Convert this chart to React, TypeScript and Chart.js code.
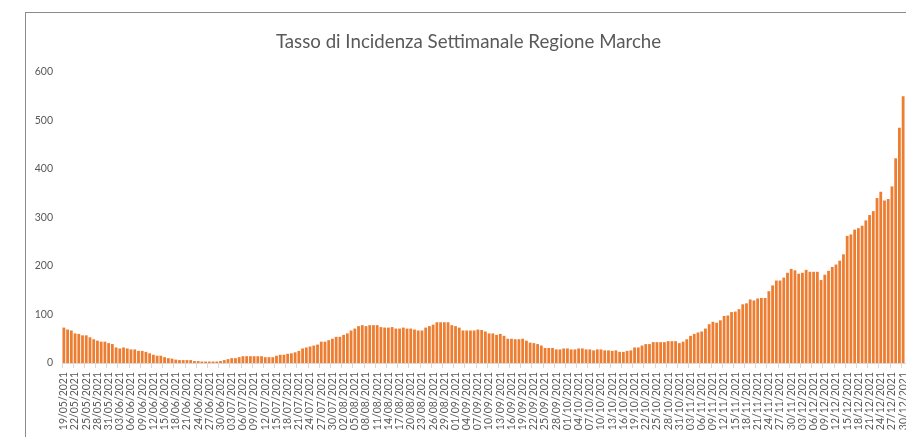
import { useEffect, useRef } from 'react';
import { Chart, registerables } from 'chart.js';

Chart.register(...registerables);

const TITLE = 'Tasso di Incidenza Settimanale Regione Marche';
const START_DAY = { y: 2021, m: 5, d: 19 };
const DAY_COUNT = 226;

function buildDates(): string[] {
  const out: string[] = [];
  const dt = new Date(START_DAY.y, START_DAY.m - 1, START_DAY.d, 12);
  for (let i = 0; i < DAY_COUNT; i++) {
    const dd = String(dt.getDate()).padStart(2, '0');
    const mm = String(dt.getMonth() + 1).padStart(2, '0');
    out.push(`${dd}/${mm}/${dt.getFullYear()}`);
    dt.setDate(dt.getDate() + 1);
  }
  return out;
}
const categories: string[] = buildDates();

// 19/05 - 04/07
const valuesMayJul = [73, 69, 67, 61, 60, 57, 57, 53, 49, 46, 44, 44, 41, 39, 32, 30, 32, 30, 28, 28, 25, 25, 23, 20, 17, 15, 15, 12, 10, 9, 7, 6, 6, 6, 6, 4, 4, 3, 3, 3, 3, 3, 4, 6, 8, 10, 10];
// 05/07 - 28/08
const valuesJulAug = [12, 14, 14, 14, 14, 14, 14, 12, 12, 12, 15, 17, 17, 19, 20, 22, 25, 30, 32, 34, 36, 38, 44, 44, 47, 50, 54, 54, 58, 61, 67, 71, 76, 78, 76, 78, 78, 78, 74, 73, 73, 74, 71, 71, 73, 71, 71, 69, 67, 67, 73, 76, 79, 84, 84];
// 29/08 - 14/10
const valuesAugOct = [84, 84, 78, 76, 73, 67, 67, 67, 67, 69, 68, 65, 61, 61, 58, 60, 56, 50, 50, 49, 49, 50, 46, 42, 41, 39, 36, 31, 31, 31, 28, 28, 30, 30, 28, 28, 30, 30, 28, 28, 26, 28, 28, 26, 26, 25, 26];
// 15/10 - 21/11
const valuesOctNov = [23, 23, 25, 26, 32, 32, 36, 39, 39, 43, 43, 43, 43, 45, 45, 45, 41, 44, 49, 56, 60, 63, 65, 71, 80, 85, 83, 88, 97, 98, 105, 106, 111, 121, 123, 131, 129, 133];
// 22/11 - 30/12
const valuesNovDec = [134, 134, 148, 160, 170, 170, 176, 186, 194, 191, 184, 186, 192, 188, 188, 188, 171, 182, 190, 198, 203, 211, 224, 262, 265, 275, 278, 283, 294, 305, 313, 340, 353, 335, 338, 364, 422, 485, 550];

const seriesValues: number[] = [...valuesMayJul, ...valuesJulAug, ...valuesAugOct, ...valuesOctNov, ...valuesNovDec];
const yTicks = [0, 100, 200, 300, 400, 500, 600];

const W = 906;
const H = 480;

export default function App() {
  const ref = useRef<HTMLCanvasElement | null>(null);

  useEffect(() => {
    const canvas = ref.current;
    if (!canvas) return;
    const chart = new Chart(canvas, {
      type: 'bar',
      data: {
        labels: categories,
        datasets: [
          {
            data: seriesValues,
            backgroundColor: '#ED7D31',
            borderWidth: 0,
            barPercentage: 0.75,
            categoryPercentage: 1,
          },
        ],
      },
      options: {
        responsive: false,
        animation: false,
        devicePixelRatio: 1,
        layout: { padding: { top: 20, left: 32, right: 1, bottom: 0 } },
        plugins: {
          legend: { display: false },
          tooltip: { enabled: false },
          title: {
            display: true,
            text: TITLE,
            color: '#595959',
            font: { family: 'Lato', size: 18.7, weight: 'normal' },
            padding: { top: 10.5, bottom: 19 },
          },
        },
        scales: {
          x: {
            offset: true,
            grid: {
              display: true,
              drawOnChartArea: false,
              drawTicks: true,
              tickLength: 5,
              offset: true,
              color: (ctx: any) => (ctx.index % 3 === 0 ? '#d9d9d9' : 'rgba(0,0,0,0)'),
            },
            border: { display: true, color: '#d9d9d9', width: 1 },
            ticks: {
              autoSkip: false,
              minRotation: 90,
              maxRotation: 90,
              padding: 4,
              color: '#595959',
              font: { family: 'Lato', size: 10.5 },
              callback: (_v: any, i: number) => (i % 3 === 0 ? categories[i] : ''),
            },
            afterFit: (scale: any) => {
              scale.height = H - 363;
              scale.paddingLeft = 0;
              scale.paddingRight = 0;
            },
          },
          y: {
            min: 0,
            max: 600,
            afterBuildTicks: (scale: any) => {
              scale.ticks = yTicks.map((v) => ({ value: v }));
            },
            grid: { display: false, drawTicks: false },
            border: { display: false },
            ticks: {
              padding: 9,
              color: '#595959',
              font: { family: 'Lato', size: 10.5 },
            },
            afterFit: (scale: any) => {
              scale.width = 30;
            },
          },
        },
      },
    });
    return () => chart.destroy();
  }, []);

  return (
    <div style={{ position: 'fixed', left: 0, top: 0, width: W, height: 437, overflow: 'hidden', background: '#fff' }}>
      <div
        style={{
          position: 'absolute',
          left: 25,
          top: 12,
          width: 1200,
          height: 1000,
          borderLeft: '1px solid #8a8a8a',
          borderTop: '1px solid #8a8a8a',
          boxSizing: 'border-box',
        }}
      />
      <canvas ref={ref} width={W} height={H} style={{ position: 'absolute', left: 0, top: 0, width: W, height: H }} />
    </div>
  );
}
